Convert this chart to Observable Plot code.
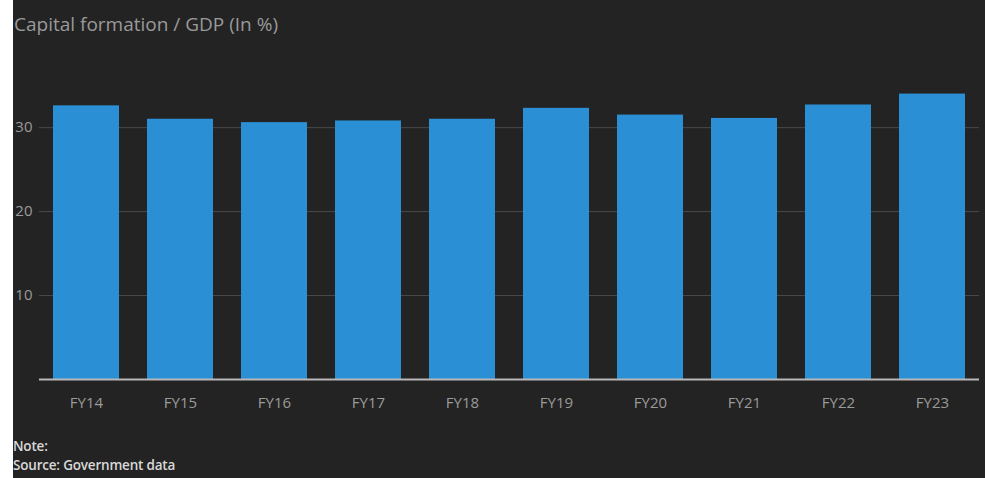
<!DOCTYPE html>
<html>
<head>
<meta charset="utf-8">
<script src="https://cdn.jsdelivr.net/npm/d3@7"></script>
<script src="https://cdn.jsdelivr.net/npm/@observablehq/plot@0.6"></script>
<style>
  html, body { margin: 0; padding: 0; background: #ffffff; }
  #wrap { position: absolute; left: 13px; top: 0; width: 972px; height: 478px; background: #232323; font-family: "Open Sans", sans-serif; overflow: hidden; }
  #title { position: absolute; left: 1px; top: 11px; font-size: 19px; line-height: 26px; color: #9a9a9a; }
  #chart { position: absolute; left: 0; top: 45px; }
  #note { position: absolute; left: 0; top: 437px; font-size: 13.5px; font-weight: 600; color: #d8d8d8; line-height: 19px; letter-spacing: -0.2px; }
</style>
</head>
<body>
<div id="wrap">
  <div id="title">Capital formation / GDP (In %)</div>
  <div id="chart"></div>
  <div id="note">Note:<br>Source: Government data</div>
</div>
<script>
const years = ["FY14","FY15","FY16","FY17","FY18","FY19","FY20","FY21","FY22","FY23"];
const values = [32.6, 31.0, 30.6, 30.8, 31.0, 32.3, 31.5, 31.1, 32.7, 34.0];
const yTicks = [10, 20, 30];

const data = years.map((y, i) => ({year: y, value: values[i]}));

const chart = Plot.plot({
  width: 972,
  height: 375,
  marginTop: 15,
  marginBottom: 41,
  marginLeft: 26,
  marginRight: 6,
  style: {background: "transparent", fontFamily: "Open Sans, sans-serif", fontSize: "15px", color: "#9a9a9a"},
  x: {domain: years, paddingInner: 0.3, paddingOuter: 0.15, label: null},
  y: {domain: [0, 38], label: null},
  marks: [
    Plot.ruleY(yTicks, {stroke: "#4a4a4a", strokeWidth: 1}),
    Plot.barY(data, {x: "year", y: "value", fill: "#2a8fd4"}),
    Plot.ruleY([0], {stroke: "#b8b8b8", strokeWidth: 2}),
    Plot.axisY(yTicks, {tickSize: 0, tickPadding: 7, fill: "#9a9a9a", fontSize: 15}),
    Plot.axisX({tickSize: 0, tickPadding: 18, fill: "#9a9a9a", fontSize: 15})
  ]
});
document.getElementById("chart").appendChild(chart);
</script>
</body>
</html>
